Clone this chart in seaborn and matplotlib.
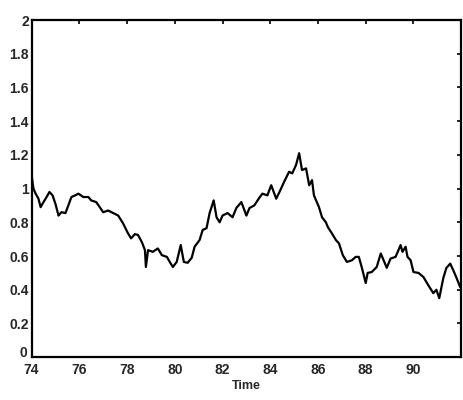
import pandas as pd
import matplotlib
matplotlib.use("Agg")
import matplotlib.pyplot as plt
from matplotlib.transforms import ScaledTranslation
import seaborn as sns

# values
years = [74.01, 74.08, 74.17, 74.29, 74.38, 74.50, 74.63, 74.75, 74.88, 75.00,
         75.13, 75.25, 75.42, 75.54, 75.67, 75.83, 75.96, 76.17, 76.38, 76.50,
         76.71, 76.88, 77.00, 77.21, 77.42, 77.63, 77.83, 78.04, 78.17, 78.33,
         78.46, 78.63, 78.75, 78.79, 78.88, 79.08, 79.29, 79.46, 79.67, 79.79,
         79.92, 80.08, 80.25, 80.38, 80.54, 80.71, 80.83, 81.04, 81.17, 81.33,
         81.46, 81.63, 81.75, 81.88, 82.00, 82.21, 82.42, 82.58, 82.79, 83.00,
         83.13, 83.33, 83.54, 83.67, 83.88, 84.04, 84.25, 84.42, 84.58, 84.79,
         84.92, 85.08, 85.21, 85.33, 85.50, 85.63, 85.75, 85.83, 86.04, 86.17,
         86.33, 86.42, 86.58, 86.75, 86.88, 87.04, 87.21, 87.42, 87.58, 87.71,
         87.83, 88.00, 88.08, 88.25, 88.46, 88.63, 88.75, 88.88, 89.04, 89.25,
         89.46, 89.54, 89.67, 89.75, 89.88, 90.00, 90.21, 90.42, 90.63, 90.83,
         90.96, 91.08, 91.25, 91.38, 91.54, 91.67, 91.79, 91.96]
values = [1.07, 1.00, 0.97, 0.94, 0.89, 0.92, 0.95, 0.98, 0.96, 0.91,
          0.84, 0.86, 0.855, 0.90, 0.95, 0.96, 0.97, 0.95, 0.95, 0.93,
          0.92, 0.885, 0.86, 0.87, 0.855, 0.84, 0.795, 0.735, 0.705, 0.73,
          0.725, 0.68, 0.635, 0.535, 0.635, 0.625, 0.645, 0.605, 0.595, 0.565,
          0.535, 0.565, 0.665, 0.565, 0.56, 0.59, 0.655, 0.695, 0.755, 0.765,
          0.855, 0.93, 0.83, 0.80, 0.84, 0.855, 0.83, 0.885, 0.92, 0.84,
          0.885, 0.90, 0.945, 0.97, 0.96, 1.02, 0.94, 0.99, 1.04, 1.10,
          1.09, 1.14, 1.21, 1.11, 1.12, 1.02, 1.05, 0.96, 0.89, 0.83,
          0.80, 0.77, 0.735, 0.695, 0.675, 0.605, 0.565, 0.575, 0.595, 0.595,
          0.535, 0.44, 0.50, 0.505, 0.535, 0.615, 0.575, 0.53, 0.585, 0.595,
          0.665, 0.625, 0.655, 0.595, 0.575, 0.505, 0.50, 0.475, 0.425, 0.38,
          0.40, 0.35, 0.47, 0.53, 0.555, 0.515, 0.475, 0.415]

x_ticks = [74, 76, 78, 80, 82, 84, 86, 88, 90]
y_ticks = [0, 0.2, 0.4, 0.6, 0.8, 1, 1.2, 1.4, 1.6, 1.8, 2]
y_labels = ["0", "0.2", "0.4", "0.6", "0.8", "1", "1.2", "1.4", "1.6", "1.8", "2"]

df = pd.DataFrame({"Time": years, "value": values})

sns.set_style("white")
plt.rcParams["font.family"] = ["Liberation Sans", "DejaVu Sans"]

fig = plt.figure(figsize=(4.64, 4.0), dpi=100)
ax = fig.add_axes([0.068, 0.107, 0.926, 0.843])

sns.lineplot(data=df, x="Time", y="value", color="black", linewidth=1.6,
             sort=False, ax=ax)

ax.set_xlim(74, 92)
ax.set_ylim(0, 2)
ax.set_xticks(x_ticks)
ax.set_xticklabels([str(t) for t in x_ticks], fontweight="bold", fontsize=10)
ax.set_yticks(y_ticks)
ax.set_yticklabels(y_labels, fontweight="bold", fontsize=10)
ax.tick_params(axis="x", pad=4)
ax.tick_params(axis="y", pad=2)
ax.tick_params(direction="in", top=True, right=True, length=3, width=1.2,
               color="black")
ax.set_xlabel("Time", fontweight="bold", fontsize=9, labelpad=2)
ax.set_ylabel("")
for s in ax.spines.values():
    s.set_linewidth(1.6)
    s.set_color("black")

# the "0" sits a little high in the original, clear of the "74"
zero = ax.get_yticklabels()[0]
zero.set_transform(zero.get_transform() +
                   ScaledTranslation(-1 / 72, 4 / 72, fig.dpi_scale_trans))

fig.savefig("out.png", dpi=100)
